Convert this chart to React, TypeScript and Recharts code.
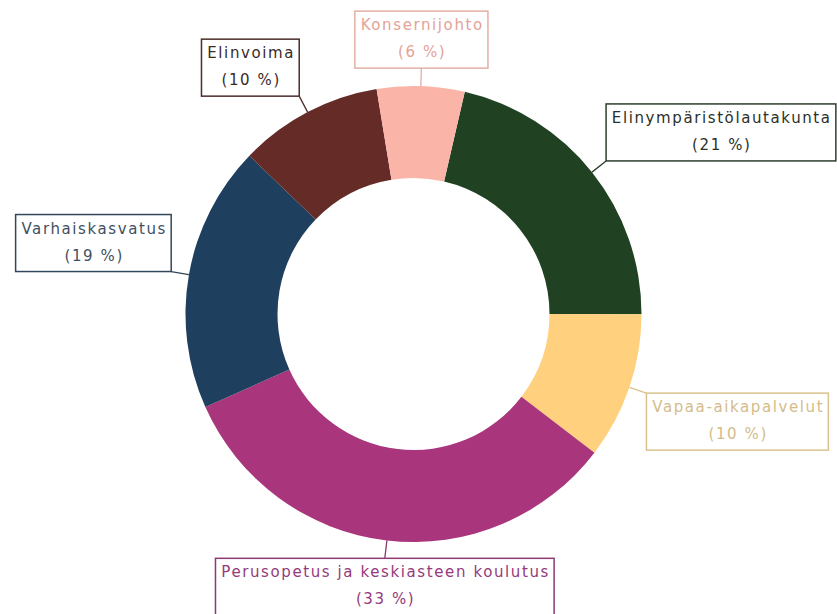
import { PieChart, Pie, Cell } from "recharts"

// slices, clockwise from just right of the top
const names = [
  "Elinympäristölautakunta",
  "Vapaa-aikapalvelut",
  "Perusopetus ja keskiasteen koulutus",
  "Varhaiskasvatus",
  "Elinvoima",
  "Konsernijohto",
]
const shares = [21.4, 10.4, 32.9, 18.9, 10.2, 6.2]

const fills = ["#214222", "#FFD07E", "#A9357C", "#1F3F5F", "#642B27", "#FBB5A8"]
const borders = ["#2E3F2E", "#D9C28E", "#8E3A72", "#33475A", "#4A2E2A", "#E2B0A5"]
const textColors = ["#2A302A", "#D4BC8A", "#953A7B", "#3E5062", "#3A2A28", "#E3A397"]

const data = names.map((name, i) => ({ name, value: shares[i] }))

const FONT = "15px 'DejaVu Sans'"
const SPACING = 1.6
const RAD = Math.PI / 180

let ctx: CanvasRenderingContext2D | null = null
function textWidth(s: string) {
  if (!ctx) ctx = document.createElement("canvas").getContext("2d")
  if (!ctx) return s.length * 9
  ctx.font = FONT
  return ctx.measureText(s).width + SPACING * s.length
}

function BoxLabel(props: any) {
  const { cx, cy, midAngle, outerRadius, name, percent, index } = props
  const ux = Math.cos(-midAngle * RAD)
  const uy = Math.sin(-midAngle * RAD)
  const x0 = cx + outerRadius * ux
  const y0 = cy + outerRadius * uy
  const px = cx + (outerRadius + 18) * ux
  const py = cy + (outerRadius + 18) * uy

  const line1 = name
  const line2 = `(${Math.round(percent * 100)} %)`
  const w = Math.max(textWidth(line1), textWidth(line2)) + 10
  const h = 57

  let left: number
  if (Math.abs(ux) < 0.3) left = px - w / 2
  else if (ux > 0) left = px
  else left = px - w
  const top = uy < 0 ? py - h : py

  return (
    <g>
      <line x1={x0} y1={y0} x2={px} y2={py} stroke={borders[index]} strokeWidth={1.3} />
      <rect x={left} y={top} width={w} height={h} fill="#fff" stroke={borders[index]} strokeWidth={1.5} />
      <text
        x={left + w / 2}
        textAnchor="middle"
        fill={textColors[index]}
        style={{ font: FONT, letterSpacing: SPACING }}
      >
        <tspan x={left + w / 2 + SPACING / 2} y={top + 19}>{line1}</tspan>
        <tspan x={left + w / 2 + SPACING / 2} y={top + 46}>{line2}</tspan>
      </text>
    </g>
  )
}

export default function App() {
  return (
    <div style={{ position: "absolute", left: 0, top: 0, background: "#fff" }}>
      <PieChart width={837} height={614} margin={{ top: 0, right: 0, bottom: 0, left: 0 }}>
        <Pie
          data={data}
          dataKey="value"
          nameKey="name"
          cx={413.5}
          cy={314}
          innerRadius={136}
          outerRadius={228}
          startAngle={77}
          endAngle={-283}
          stroke="none"
          label={BoxLabel}
          labelLine={false}
          isAnimationActive={false}
        >
          {data.map((d, i) => (
            <Cell key={d.name} fill={fills[i]} />
          ))}
        </Pie>
      </PieChart>
    </div>
  )
}
